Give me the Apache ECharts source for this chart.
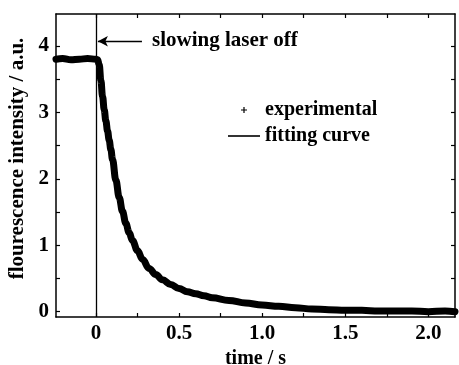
<!DOCTYPE html>
<html>
<head>
<meta charset="utf-8">
<script src="https://cdn.jsdelivr.net/npm/echarts@6/dist/echarts.min.js"></script>
<style>
  html, body { margin: 0; padding: 0; background: #fff; }
  #chart { width: 459px; height: 365px; }
</style>
</head>
<body>
<div id="chart"></div>
<script>
const expTimes = [-0.24, -0.2, -0.15, -0.1, -0.05, 0, 0.01, 0.02, 0.03, 0.04, 0.05, 0.06, 0.07, 0.08, 0.09, 0.10,
  0.12, 0.14, 0.16, 0.18, 0.20, 0.22, 0.25, 0.28, 0.32, 0.36, 0.40, 0.45, 0.50, 0.55, 0.60, 0.65, 0.70,
  0.80, 0.90, 1.00, 1.10, 1.20, 1.30, 1.40, 1.50, 1.60, 1.70, 1.80, 1.90, 2.00, 2.10, 2.16]
const expValues = [3.80, 3.81, 3.79, 3.80, 3.81, 3.80, 3.79, 3.72, 3.48, 3.24, 3.04, 2.87, 2.72, 2.58, 2.44, 2.29,
  1.98, 1.72, 1.51, 1.33, 1.19, 1.07, 0.92, 0.79, 0.65, 0.56, 0.48, 0.41, 0.35, 0.30, 0.27, 0.24, 0.21,
  0.17, 0.13, 0.10, 0.08, 0.06, 0.04, 0.03, 0.02, 0.02, 0.01, 0.01, 0.01, 0.00, 0.01, 0.00]

// fitted decay
const fitTimes = [0.02, 0.05, 0.08, 0.12, 0.16, 0.20, 0.25, 0.32, 0.40, 0.50, 0.60, 0.70, 0.80, 1.00, 1.20, 1.50, 1.80, 2.16]
const fitValues = [3.72, 3.04, 2.58, 1.98, 1.51, 1.19, 0.92, 0.65, 0.48, 0.35, 0.27, 0.21, 0.17, 0.10, 0.06, 0.02, 0.01, 0.00]

const xLabels = [0, 0.5, 1.0, 1.5, 2.0]
const xTicks = [-0.25, 0, 0.25, 0.5, 0.75, 1.0, 1.25, 1.5, 1.75, 2.0]
const yLabels = [0, 1, 2, 3, 4]
const yTicks = [0, 0.5, 1, 1.5, 2, 2.5, 3, 3.5, 4]

const laserOffT = 0
const laserNote = 'slowing laser off'

const font = 'Liberation Serif'
const black = '#000'

const chart = echarts.init(document.getElementById('chart'))

const axisBase = {
  type: 'value',
  axisLine: { show: true, onZero: false, lineStyle: { color: black, width: 1.5 } },
  splitLine: { show: false },
}

chart.setOption({
  animation: false,
  backgroundColor: '#fff',
  grid: { left: 56, right: 4, top: 14, bottom: 48, containLabel: false, outerBoundsMode: 'none' },
  legend: {
    orient: 'vertical',
    left: 223,
    top: 95,
    itemWidth: 32,
    itemHeight: 6,
    itemGap: 6,
    textStyle: { fontFamily: font, fontWeight: 'bold', fontSize: 20, color: black },
    data: [
      { name: 'experimental', icon: 'path://M2,0h1v2h2v1h-2v2h-1v-2h-2v-1h2z' },
      { name: 'fitting curve', icon: 'path://M0,0h30v1.5h-30z' },
    ],
  },
  xAxis: [
    {
      ...axisBase,
      min: -0.24,
      max: 2.16,
      position: 'bottom',
      name: 'time / s',
      nameLocation: 'middle',
      nameGap: 30,
      nameTextStyle: { fontFamily: font, fontWeight: 'bold', fontSize: 20, color: black },
      axisTick: { show: true, inside: true, length: 4, customValues: xTicks, lineStyle: { color: black, width: 1.2 } },
      axisLabel: {
        customValues: xLabels,
        margin: 6,
        fontFamily: font, fontWeight: 'bold', fontSize: 21, color: black,
        formatter: v => (v === 0 ? '0' : v.toFixed(1)),
      },
    },
    {
      ...axisBase,
      min: -0.24,
      max: 2.16,
      position: 'top',
      axisTick: { show: true, inside: true, length: 4, customValues: xTicks, lineStyle: { color: black, width: 1.2 } },
      axisLabel: { show: false },
    },
  ],
  yAxis: [
    {
      ...axisBase,
      min: -0.08,
      max: 4.48,
      position: 'left',
      name: 'flourescence intensity / a.u.',
      nameLocation: 'middle',
      nameGap: 17,
      nameTextStyle: { fontFamily: font, fontWeight: 'bold', fontSize: 21, color: black, padding: [0, 0, 0, 14] },
      axisTick: { show: true, inside: true, length: 4, customValues: yTicks, lineStyle: { color: black, width: 1.2 } },
      axisLabel: {
        customValues: yLabels,
        margin: 7,
        fontFamily: font, fontWeight: 'bold', fontSize: 21, color: black,
      },
    },
    {
      ...axisBase,
      min: -0.08,
      max: 4.48,
      position: 'right',
      axisTick: { show: true, inside: true, length: 4, customValues: yTicks, lineStyle: { color: black, width: 1.2 } },
      axisLabel: { show: false },
    },
  ],
  series: [
    {
      name: 'experimental',
      type: 'line',
      data: expTimes.map((t, i) => [t, expValues[i]]),
      showSymbol: false,
      symbol: 'none',
      smooth: 0.4,
      smoothMonotone: 'x',
      lineStyle: { color: black, width: 7, join: 'round', cap: 'round' },
      itemStyle: { color: black },
      z: 3,
      markLine: {
        silent: true,
        animation: false,
        data: [
          [
            { coord: [laserOffT, -0.08], symbol: 'none' },
            { coord: [laserOffT, 4.48], symbol: 'none' },
          ],
          [
            { coord: [0.277, 4.07], symbol: 'none' },
            { coord: [0.012, 4.07], symbol: 'arrow', symbolSize: [8, 10] },
          ],
        ],
        lineStyle: { color: black, width: 1.3, type: 'solid' },
        label: { show: false },
      },
    },
    {
      name: 'fitting curve',
      type: 'line',
      data: fitTimes.map((t, i) => [t, fitValues[i]]),
      showSymbol: false,
      symbol: 'none',
      smooth: 0.3,
      smoothMonotone: 'x',
      lineStyle: { color: black, width: 1.5 },
      itemStyle: { color: black },
      z: 4,
    },
  ],
  graphic: [
    {
      type: 'text',
      left: 152,
      top: 30,
      style: { text: laserNote, fontFamily: font, fontWeight: 'bold', fontSize: 21, fill: black },
    },
  ],
})
</script>
</body>
</html>
